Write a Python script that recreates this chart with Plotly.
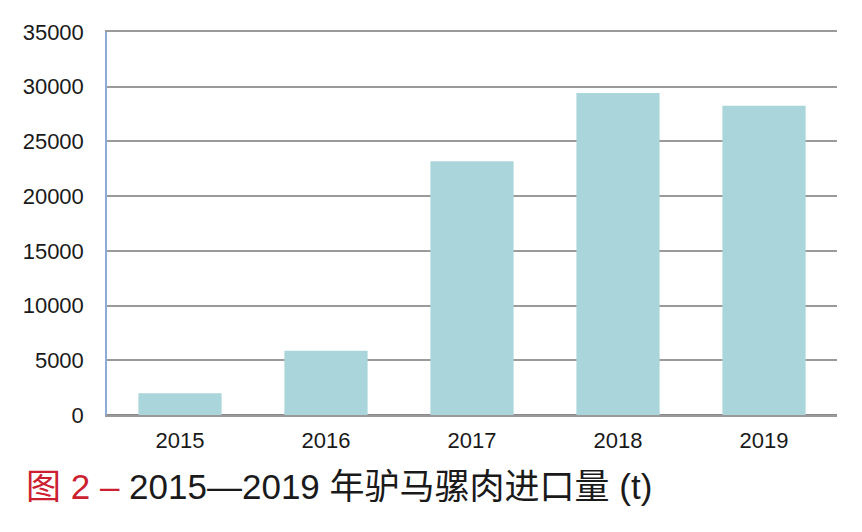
import plotly.graph_objects as go

years = ["2015", "2016", "2017", "2018", "2019"]
imports_t = [1980, 5880, 23200, 29420, 28250]
y_ticks = [0, 5000, 10000, 15000, 20000, 25000, 30000, 35000]

# page body has an 8px margin, so the figure is sized to fit inside it
W, H = 846, 516
L, R, T, B = 99, 17, 20, 109
PW, PH = W - L - R, H - T - B

fig = go.Figure()
fig.add_trace(go.Bar(
    x=years, y=imports_t,
    marker=dict(color="#aad5da", line=dict(width=0)),
    hoverinfo="skip",
))

fig.update_layout(
    width=W, height=H,
    margin=dict(l=L, r=R, t=T, b=B),
    paper_bgcolor="white", plot_bgcolor="white",
    bargap=0.43,
    showlegend=False,
    font=dict(family="Liberation Sans, Arial, sans-serif", color="#1a1a1a", size=22),
    xaxis=dict(
        type="category",
        showgrid=False,
        showline=True, linecolor="#9a9a9a", linewidth=1.5, mirror=True,
        ticks="",
        tickfont=dict(size=22),
        ticklabelstandoff=5,
    ),
    yaxis=dict(
        range=[0, 35000],
        tickvals=y_ticks,
        ticktext=[str(v) for v in y_ticks],
        showgrid=True, gridcolor="#9a9a9a", gridwidth=1.5,
        zeroline=True, zerolinecolor="#8a8a8a", zerolinewidth=2,
        showline=True, linecolor="#8eaadb", linewidth=1.5,
        ticks="",
        tickfont=dict(size=22),
        ticklabelstandoff=17,
    ),
)

fig.add_annotation(
    xref="paper", yref="paper",
    x=(16 - L) / PW, y=-(479 - (T + PH)) / PH,
    xanchor="left", yanchor="middle",
    showarrow=False,
    text="<span style='color:#cc2030'>图 2 – </span>2015—2019 年驴马骡肉进口量 (t)",
    font=dict(family="Liberation Sans, Noto Sans CJK SC, sans-serif", size=35, color="#1a1a1a"),
)

fig.write_html("out.html")
